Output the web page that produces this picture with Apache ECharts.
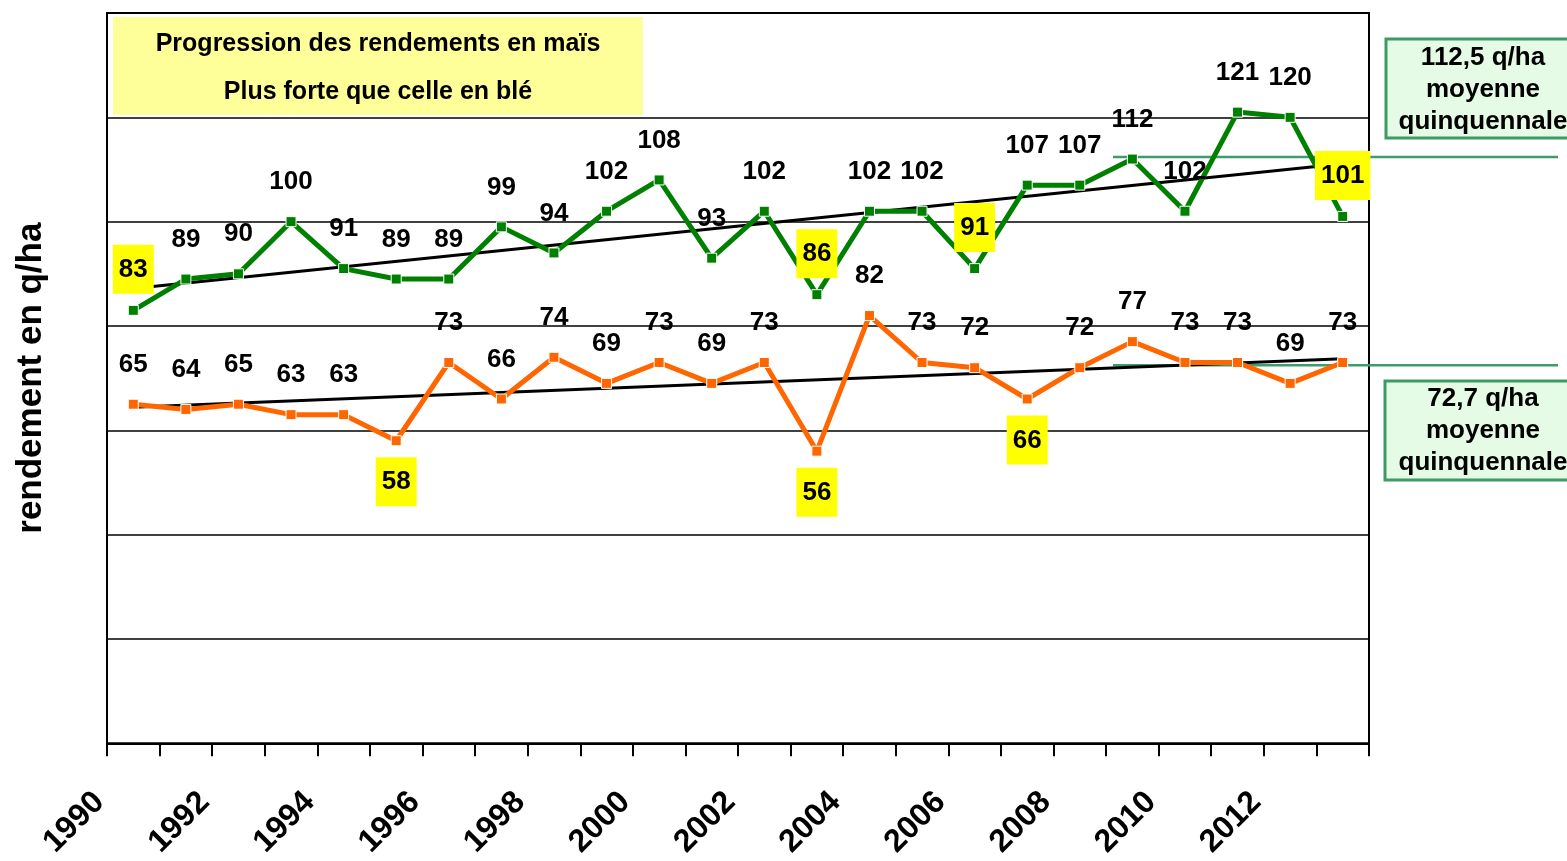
<!DOCTYPE html>
<html>
<head>
<meta charset="utf-8">
<script src="https://cdn.jsdelivr.net/npm/echarts@6/dist/echarts.min.js"></script>
<style>
html, body { margin: 0; padding: 0; background: #fff; }
#chart { width: 1567px; height: 861px; }
</style>
</head>
<body>
<div id="chart"></div>
<script>
// data
var years = ['1990', '1991', '1992', '1993', '1994', '1995', '1996', '1997', '1998', '1999', '2000', '2001',
	'2002', '2003', '2004', '2005', '2006', '2007', '2008', '2009', '2010', '2011', '2012', '2013'];
var mais = [83, 89, 90, 100, 91, 89, 89, 99, 94, 102, 108, 93, 102, 86, 102, 102, 91, 107, 107, 112, 102, 121, 120, 101];
var ble = [65, 64, 65, 63, 63, 58, 73, 66, 74, 69, 73, 69, 73, 56, 82, 73, 72, 66, 72, 77, 73, 73, 69, 73];
var maisHighlight = [0, 13, 16, 23];
var bleHighlight = [5, 13, 17];
var maisTrend = [87.2, 111.1];   // trend line at 1990 and 2013
var bleTrend = [64.4, 73.7];
var maisMoyenne = 112.5;
var bleMoyenne = 72.7;

var font = 'Liberation Sans, Arial, sans-serif';

function buildData(vals, highlight, pos) {
	var out = [];
	for (var i = 0; i < vals.length; i++) {
		if (highlight.indexOf(i) >= 0) {
			out.push({
				value : vals[i],
				label : {
					position : pos,
					distance : 11,
					backgroundColor : '#FFFF00',
					padding : [10, 6, 9, 6]
				}
			});
		} else {
			out.push(vals[i]);
		}
	}
	return out;
}

var chart = echarts.init(document.getElementById('chart'));

var baseLabel = {
	show : true,
	position : 'top',
	distance : 19,
	color : '#000',
	fontFamily : font,
	fontWeight : 'bold',
	fontSize : 26,
	lineHeight : 30
};

var option = {
	animation : false,
	backgroundColor : '#fff',
	grid : [{
				left : 107,
				right : 198,
				top : 13,
				bottom : 115,
				show : true,
				borderColor : '#000',
				borderWidth : 2
			}, {
				left : 1113,
				right : 9,
				top : 13,
				bottom : 115
			}],
	xAxis : [{
				type : 'category',
				data : years,
				boundaryGap : true,
				gridIndex : 0,
				axisLine : {
					show : true,
					lineStyle : {
						color : '#000',
						width : 2
					}
				},
				axisTick : {
					show : true,
					interval : 0,
					inside : false,
					length : 13,
					lineStyle : {
						color : '#000',
						width : 2
					}
				},
				axisLabel : {
					interval : 1,
					rotate : 45,
					margin : 20,
					padding : [0, 48, 0, 0],
					color : '#000',
					fontFamily : font,
					fontWeight : 'bold',
					fontSize : 32
				},
				splitLine : {
					show : false
				}
			}, {
				type : 'value',
				gridIndex : 1,
				min : 0,
				max : 1,
				show : false
			}],
	yAxis : [{
				type : 'value',
				gridIndex : 0,
				min : 0,
				max : 140,
				interval : 20,
				name : 'rendement en q/ha',
				nameLocation : 'middle',
				nameRotate : 90,
				nameGap : 58,
				nameTextStyle : {
					color : '#000',
					fontFamily : font,
					fontWeight : 'bold',
					fontSize : 35
				},
				axisLine : {
					show : true,
					lineStyle : {
						color : '#000',
						width : 2
					}
				},
				axisTick : {
					show : false
				},
				axisLabel : {
					show : false
				},
				splitLine : {
					lineStyle : {
						color : '#000',
						width : 1.5
					}
				}
			}, {
				type : 'value',
				gridIndex : 1,
				min : 0,
				max : 140,
				show : false
			}],
	series : [{
				name : 'moyenne maïs',
				type : 'line',
				xAxisIndex : 1,
				yAxisIndex : 1,
				data : [[0, maisMoyenne], [1, maisMoyenne]],
				symbol : 'none',
				lineStyle : {
					color : '#3E9B6E',
					width : 2.5
				},
				z : 1
			}, {
				name : 'moyenne blé',
				type : 'line',
				xAxisIndex : 1,
				yAxisIndex : 1,
				data : [[0, bleMoyenne], [1, bleMoyenne]],
				symbol : 'none',
				lineStyle : {
					color : '#3E9B6E',
					width : 2.5
				},
				z : 1
			}, {
				name : 'maïs',
				type : 'line',
				data : buildData(mais, maisHighlight, 'top'),
				symbol : 'rect',
				symbolSize : 10,
				itemStyle : {
					color : '#008000',
					borderColor : '#fff',
					borderWidth : 1
				},
				lineStyle : {
					color : '#008000',
					width : 5
				},
				label : baseLabel,
				z : 3
			}, {
				name : 'blé',
				type : 'line',
				data : buildData(ble, bleHighlight, 'bottom'),
				symbol : 'rect',
				symbolSize : 10,
				itemStyle : {
					color : '#FF6600',
					borderColor : '#fff',
					borderWidth : 1
				},
				lineStyle : {
					color : '#FF6600',
					width : 5
				},
				label : baseLabel,
				z : 3
			}, {
				name : 'tendance maïs',
				type : 'line',
				data : [[years[0], maisTrend[0]], [years[years.length - 1], maisTrend[1]]],
				symbol : 'none',
				lineStyle : {
					color : '#000',
					width : 3
				},
				z : 2
			}, {
				name : 'tendance blé',
				type : 'line',
				data : [[years[0], bleTrend[0]], [years[years.length - 1], bleTrend[1]]],
				symbol : 'none',
				lineStyle : {
					color : '#000',
					width : 3
				},
				z : 2
			}],
	graphic : [{
				type : 'rect',
				shape : { x : 113, y : 17, width : 530, height : 98 },
				style : { fill : '#FFFF99' },
				z : 10
			}, {
				type : 'text',
				x : 378,
				y : 68,
				style : {
					text : 'Progression des rendements en maïs\nPlus forte que celle en blé',
					align : 'center',
					verticalAlign : 'middle',
					lineHeight : 48,
					fontFamily : font,
					fontWeight : 'bold',
					fontSize : 25,
					fill : '#000'
				},
				z : 11
			}, {
				type : 'rect',
				shape : { x : 1386, y : 39, width : 200, height : 99 },
				style : { fill : '#E6FBE6', stroke : '#3C9A64', lineWidth : 3 },
				z : 10
			}, {
				type : 'text',
				x : 1483,
				y : 90,
				style : {
					text : '112,5 q/ha\nmoyenne\nquinquennale',
					align : 'center',
					verticalAlign : 'middle',
					lineHeight : 32,
					fontFamily : font,
					fontWeight : 'bold',
					fontSize : 26,
					fill : '#000'
				},
				z : 11
			}, {
				type : 'rect',
				shape : { x : 1385, y : 381, width : 200, height : 99 },
				style : { fill : '#E6FBE6', stroke : '#3C9A64', lineWidth : 3 },
				z : 10
			}, {
				type : 'text',
				x : 1483,
				y : 431,
				style : {
					text : '72,7 q/ha\nmoyenne\nquinquennale',
					align : 'center',
					verticalAlign : 'middle',
					lineHeight : 32,
					fontFamily : font,
					fontWeight : 'bold',
					fontSize : 26,
					fill : '#000'
				},
				z : 11
			}]
};

chart.setOption(option);
</script>
</body>
</html>
